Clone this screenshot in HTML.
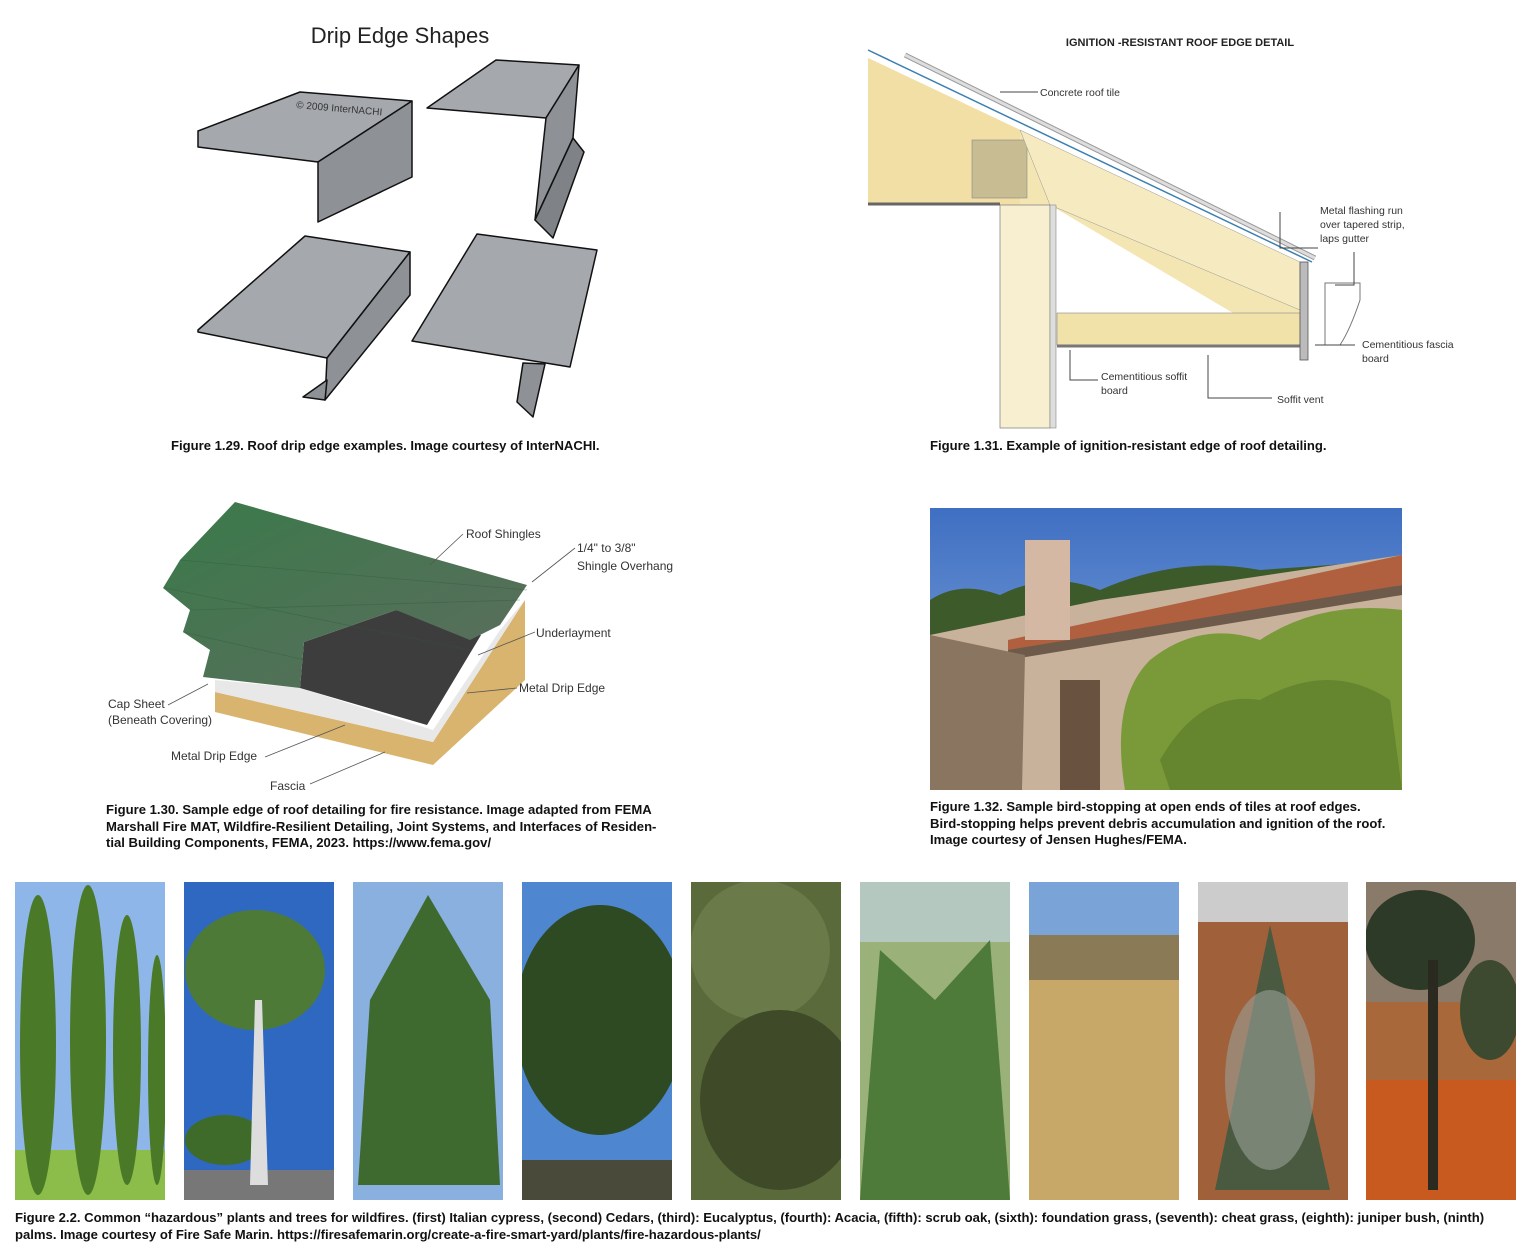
<!DOCTYPE html>
<html><head><meta charset="utf-8"><style>
body{margin:0;background:#fff;width:1532px;height:1250px;overflow:hidden;font-family:"Liberation Sans",sans-serif}
.c{position:absolute;font-weight:bold;font-size:13.1px;color:#111;line-height:16.5px;white-space:nowrap}
svg text{font-family:"Liberation Sans",sans-serif}
</style></head><body>
<svg width="1532" height="1250" style="position:absolute;left:0;top:0">
<defs>
<linearGradient id="sky" x1="0" y1="0" x2="0" y2="1"><stop offset="0" stop-color="#3f6fc2"/><stop offset="1" stop-color="#8fb0e0"/></linearGradient>
<linearGradient id="grn" x1="0" y1="0" x2="1" y2="1"><stop offset="0" stop-color="#3a7a4a"/><stop offset="1" stop-color="#5d6c5e"/></linearGradient>
<clipPath id="pc"><rect x="15" y="882" width="150" height="318"/><rect x="184" y="882" width="150" height="318"/><rect x="353" y="882" width="150" height="318"/><rect x="522" y="882" width="150" height="318"/><rect x="691" y="882" width="150" height="318"/><rect x="860" y="882" width="150" height="318"/><rect x="1029" y="882" width="150" height="318"/><rect x="1198" y="882" width="150" height="318"/><rect x="1366" y="882" width="150" height="318"/></clipPath>
<clipPath id="bc"><rect x="930" y="508" width="472" height="282"/></clipPath>
</defs>
<text x="400" y="43" font-size="22" text-anchor="middle" fill="#222">Drip Edge Shapes</text>
<g fill="#a5a8ad" stroke="#111" stroke-width="1.5" stroke-linejoin="round">
<polygon points="198,131 300,92 412,101 318,162 198,147"/>
<polygon points="318,162 412,101 412,177 318,222" fill="#8e9196"/>
<polygon points="427,108 496,60 579,65 546,118"/>
<polygon points="546,118 579,65 573,138 535,220" fill="#8e9196"/>
<polygon points="573,138 584,152 553,238 535,220" fill="#7f8287"/>
<polygon points="198,330 305,236 410,252 327,358 198,332"/>
<polygon points="327,358 410,252 410,295 325,400" fill="#8e9196"/>
<polygon points="327,380 303,397 325,400" fill="#8e9196"/>
<polygon points="412,341 477,234 597,250 570,367"/>
<polygon points="523,363 517,402 533,417 545,364" fill="#8e9196"/>
</g>
<text x="296" y="108" font-size="10" fill="#333" transform="rotate(5 296 108)">© 2009 InterNACHI</text>

<text x="1180" y="46" font-size="11" font-weight="bold" text-anchor="middle" fill="#222">IGNITION -RESISTANT ROOF EDGE DETAIL</text>
<polygon points="868,58 1300,262 1300,345 1057,345 1057,313 1233,313 1050,205 868,205" fill="#f4e6b3"/>
<polygon points="868,58 1020,130 1020,205 868,205" fill="#f1dfa5"/>
<rect x="972" y="140" width="55" height="58" fill="#c8bd92" stroke="#888" stroke-width="0.6"/>
<polygon points="1050,205 1300,310 1300,262 1020,130" fill="#f6eac0" stroke="#999" stroke-width="0.5"/>
<rect x="1057" y="313" width="243" height="32" fill="#f1e2aa" stroke="#888" stroke-width="0.6"/>
<rect x="1000" y="205" width="50" height="223" fill="#f7efd0" stroke="#888" stroke-width="0.8"/>
<rect x="1050" y="205" width="6" height="223" fill="#ddd" stroke="#888" stroke-width="0.6"/>
<line x1="868" y1="204" x2="1000" y2="204" stroke="#666" stroke-width="3"/>
<line x1="1057" y1="346" x2="1305" y2="346" stroke="#777" stroke-width="3"/>
<rect x="1300" y="262" width="8" height="98" fill="#bbb" stroke="#555" stroke-width="0.8"/>
<line x1="868" y1="50" x2="1312" y2="262" stroke="#3b7fb0" stroke-width="1.5"/>
<line x1="905" y1="55" x2="1315" y2="258" stroke="#999" stroke-width="5"/>
<line x1="905" y1="55" x2="1315" y2="258" stroke="#ddd" stroke-width="3"/>
<path d="M1325,283 L1360,283 L1360,300 Q1350,330 1340,345 L1325,345 Z" fill="#fff" stroke="#777"/>
<g fill="none" stroke="#444" stroke-width="1">
<path d="M1000,92 H1038 M1280,212 V248 H1318 M1354,252 V285 H1335 M1355,345 H1315 M1070,350 V380 H1098 M1208,355 V398 H1272"/>
</g>
<g font-size="10.5" fill="#333">
<text x="1040" y="96">Concrete roof tile</text>
<text x="1320" y="214">Metal flashing run</text><text x="1320" y="228">over tapered strip,</text><text x="1320" y="242">laps gutter</text>
<text x="1362" y="348">Cementitious fascia</text><text x="1362" y="362">board</text>
<text x="1101" y="380">Cementitious soffit</text><text x="1101" y="394">board</text>
<text x="1277" y="403">Soffit vent</text>
</g>

<polygon points="215,692 433,742 525,600 525,680 433,765 215,712" fill="#d9b46f"/>
<polygon points="215,680 300,688 433,730 500,630 525,600 433,742 215,692" fill="#e8e8e8"/>
<polygon points="304,642 396,610 481,635 427,725 300,688" fill="#3d3d3d"/>
<polygon points="235,502 527,585 500,625 470,640 396,610 304,642 300,688 203,677 210,650 183,632 190,610 163,588 180,560" fill="url(#grn)"/>
<g fill="none" stroke="#555" stroke-width="0.8">
<path d="M165,588 L470,650 M183,632 L305,660 M190,610 L520,600 M180,560 L527,590" stroke="#2d5a3a" opacity="0.4"/>
<path d="M463,534 L430,565 M575,548 L532,582 M535,632 L478,655 M517,688 L467,693 M168,705 L208,684 M265,757 L345,725 M310,784 L385,752"/>
</g>
<g font-size="12" fill="#333">
<text x="466" y="538">Roof Shingles</text>
<text x="577" y="552">1/4" to 3/8"</text><text x="577" y="570">Shingle Overhang</text>
<text x="536" y="637">Underlayment</text>
<text x="519" y="692">Metal Drip Edge</text>
<text x="108" y="708">Cap Sheet</text><text x="108" y="724">(Beneath Covering)</text>
<text x="171" y="760">Metal Drip Edge</text>
<text x="270" y="790">Fascia</text>
</g>

<g clip-path="url(#bc)">
<rect x="930" y="508" width="472" height="282" fill="url(#sky)"/>
<path d="M930,600 Q960,580 1000,595 Q1050,570 1100,590 Q1180,555 1260,570 L1402,560 L1402,650 L930,650Z" fill="#3d5a2a"/>
<polygon points="930,635 1100,600 1402,555 1402,790 930,790" fill="#c9b29b"/>
<polygon points="1008,640 1402,555 1402,585 1008,655" fill="#b0603e"/>
<polygon points="1008,650 1402,585 1402,595 1008,660" fill="#6e5a4a"/>
<rect x="1025" y="540" width="45" height="100" fill="#d4b8a3"/>
<polygon points="930,635 1025,655 1022,790 930,790" fill="#8a7560"/>
<rect x="1060" y="680" width="40" height="110" fill="#6a5240"/>
<path d="M1125,790 Q1110,700 1150,660 Q1200,620 1260,640 Q1320,600 1402,610 L1402,790Z" fill="#7a9a3a"/>
<path d="M1160,760 Q1200,690 1260,700 Q1330,660 1390,700 L1402,790 L1170,790Z" fill="#5d7d2a" opacity="0.7"/>
</g>

<g clip-path="url(#pc)">
<rect x="15" y="882" width="150" height="318" fill="#8fb6e8"/>
<rect x="15" y="1150" width="150" height="50" fill="#8cbc4a"/>
<g fill="#4a7a28"><ellipse cx="38" cy="1045" rx="18" ry="150"/><ellipse cx="88" cy="1040" rx="18" ry="155"/><ellipse cx="127" cy="1050" rx="14" ry="135"/><ellipse cx="157" cy="1070" rx="9" ry="115"/></g>
<rect x="184" y="882" width="150" height="318" fill="#2f68c0"/>
<rect x="184" y="1170" width="150" height="30" fill="#777"/>
<ellipse cx="255" cy="970" rx="70" ry="60" fill="#4e7a38"/>
<ellipse cx="225" cy="1140" rx="40" ry="25" fill="#3e6a2a"/>
<path d="M250,1185 L255,1000 L262,1000 L268,1185Z" fill="#ddd"/>
<rect x="353" y="882" width="150" height="318" fill="#8ab0e0"/>
<polygon points="428,895 370,1000 358,1185 500,1185 490,1000" fill="#3e6a30"/>
<rect x="522" y="882" width="150" height="318" fill="#4f86d0"/>
<ellipse cx="600" cy="1020" rx="85" ry="115" fill="#2e4a22"/>
<rect x="522" y="1160" width="150" height="40" fill="#4a4a3a"/>
<rect x="691" y="882" width="150" height="318" fill="#5a6a3a"/>
<ellipse cx="760" cy="950" rx="70" ry="70" fill="#6a7a48"/>
<ellipse cx="780" cy="1100" rx="80" ry="90" fill="#3e4a28"/>
<rect x="860" y="882" width="150" height="318" fill="#9ab27a"/>
<rect x="860" y="882" width="150" height="60" fill="#b4c8c0"/>
<path d="M860,1200 L880,950 L935,1000 L990,940 L1010,1200Z" fill="#4e7a3a"/>
<rect x="1029" y="882" width="150" height="318" fill="#7aa4d8"/>
<rect x="1029" y="935" width="150" height="265" fill="#c8a868"/>
<rect x="1029" y="935" width="150" height="45" fill="#8a7a55"/>
<rect x="1198" y="882" width="150" height="318" fill="#a0603a"/>
<rect x="1198" y="882" width="150" height="40" fill="#ccc"/>
<polygon points="1270,925 1215,1190 1330,1190" fill="#4a5a40"/>
<ellipse cx="1270" cy="1080" rx="45" ry="90" fill="#9aa098" opacity="0.6"/>
<rect x="1366" y="882" width="150" height="318" fill="#a8683a"/>
<rect x="1366" y="882" width="150" height="120" fill="#8a7a6a"/>
<rect x="1366" y="1080" width="150" height="120" fill="#c85a20"/>
<ellipse cx="1420" cy="940" rx="55" ry="50" fill="#2e3a28"/>
<rect x="1428" y="960" width="10" height="230" fill="#2a2a20"/>
<ellipse cx="1490" cy="1010" rx="30" ry="50" fill="#3e4a30"/>
</g>
</svg>
<div class="c" style="left:171px;top:438px">Figure 1.29. Roof drip edge examples. Image courtesy of InterNACHI.</div>
<div class="c" style="left:930px;top:438px">Figure 1.31. Example of ignition-resistant edge of roof detailing.</div>
<div class="c" style="left:106px;top:802px">Figure 1.30. Sample edge of roof detailing for fire resistance. Image adapted from FEMA<br>Marshall Fire MAT, Wildfire-Resilient Detailing, Joint Systems, and Interfaces of Residen-<br>tial Building Components, FEMA, 2023. https://www.fema.gov/</div>
<div class="c" style="left:930px;top:799px">Figure 1.32. Sample bird-stopping at open ends of tiles at roof edges.<br>Bird-stopping helps prevent debris accumulation and ignition of the roof.<br>Image courtesy of Jensen Hughes/FEMA.</div>
<div class="c" style="left:15px;top:1210px">Figure 2.2. Common “hazardous” plants and trees for wildfires. (first) Italian cypress, (second) Cedars, (third): Eucalyptus, (fourth): Acacia, (fifth): scrub oak, (sixth): foundation grass, (seventh): cheat grass, (eighth): juniper bush, (ninth)<br>palms. Image courtesy of Fire Safe Marin. https://firesafemarin.org/create-a-fire-smart-yard/plants/fire-hazardous-plants/</div>
</body></html>
